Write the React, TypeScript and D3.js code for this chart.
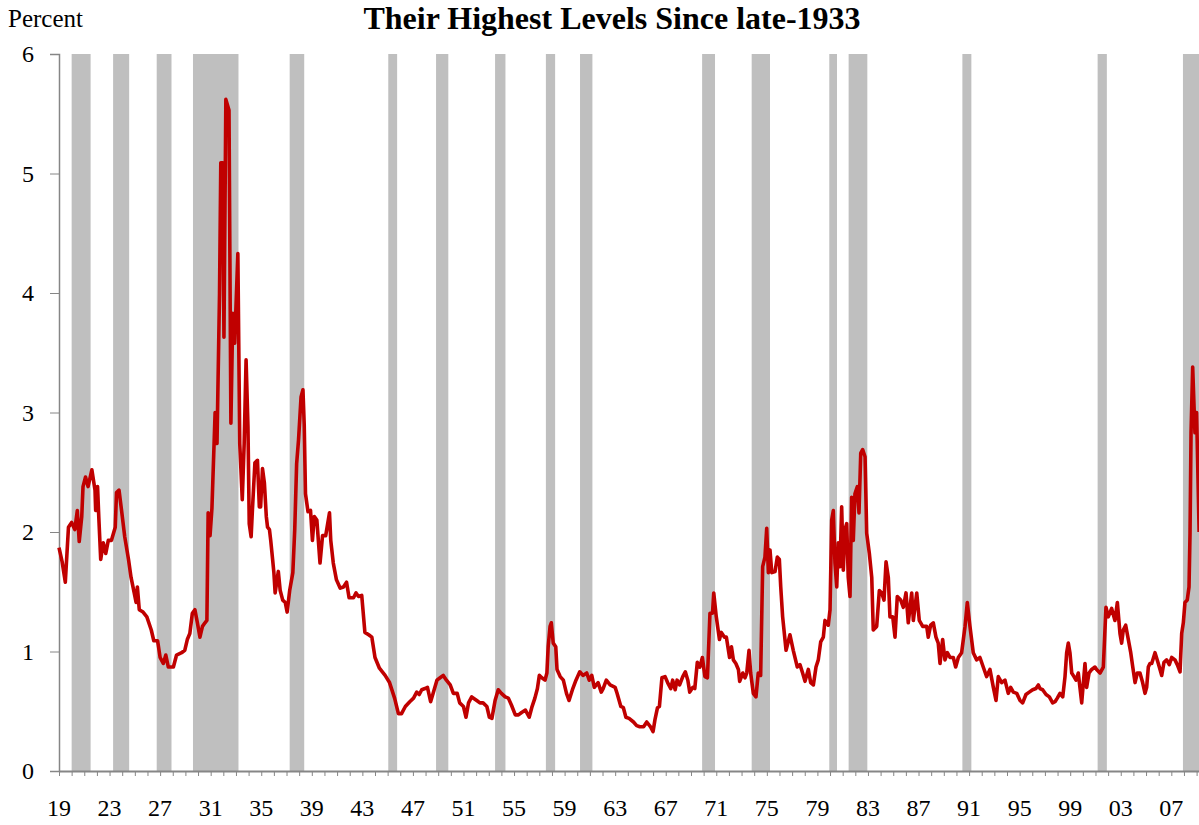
import React, { useEffect, useRef } from "react";
import * as d3 from "d3";

// Baa - Aaa corporate spread (decimal year, percent)
const dates = [
  1919.0, 1919.25, 1919.5, 1919.75, 1920.0, 1920.25, 1920.45, 1920.6, 1920.8, 1920.9,
  1921.1, 1921.3, 1921.6, 1921.85, 1921.9, 1922.05, 1922.15, 1922.3, 1922.5, 1922.7,
  1922.9, 1923.15, 1923.45, 1923.55, 1923.75, 1923.95, 1924.2, 1924.5, 1924.7, 1924.95,
  1925.1, 1925.2, 1925.35, 1925.65, 1925.95, 1926.3, 1926.5, 1926.8, 1927.0, 1927.25,
  1927.45, 1927.65, 1928.05, 1928.3, 1928.7, 1928.95, 1929.15, 1929.35, 1929.55, 1929.75,
  1929.95, 1930.15, 1930.35, 1930.55, 1930.7, 1930.8, 1930.95, 1931.1, 1931.35, 1931.5,
  1931.7, 1931.8, 1931.95, 1932.05, 1932.2, 1932.45, 1932.6, 1932.75, 1932.9, 1933.15,
  1933.3, 1933.5, 1933.65, 1933.8, 1933.95, 1934.05, 1934.2, 1934.3, 1934.5, 1934.7,
  1934.85, 1934.95, 1935.1, 1935.25, 1935.4, 1935.5, 1935.65, 1935.75, 1935.9, 1936.0,
  1936.1, 1936.35, 1936.5, 1936.7, 1936.9, 1937.05, 1937.25, 1937.5, 1937.65, 1937.8,
  1937.95, 1938.15, 1938.3, 1938.4, 1938.5, 1938.7, 1938.9, 1939.05, 1939.2, 1939.4,
  1939.65, 1939.85, 1940.1, 1940.4, 1940.5, 1940.7, 1940.95, 1941.25, 1941.5, 1941.75,
  1941.95, 1942.3, 1942.5, 1942.7, 1942.95, 1943.2, 1943.5, 1943.75, 1944.0, 1944.35,
  1944.8, 1945.15, 1945.55, 1945.85, 1946.1, 1946.4, 1946.75, 1947.05, 1947.3, 1947.5,
  1947.7, 1947.95, 1948.15, 1948.4, 1948.6, 1948.9, 1949.15, 1949.4, 1949.65, 1949.95,
  1950.2, 1950.5, 1950.7, 1951.0, 1951.2, 1951.4, 1951.65, 1952.05, 1952.3, 1952.55,
  1952.85, 1953.05, 1953.25, 1953.5, 1953.75, 1954.0, 1954.3, 1954.55, 1954.8, 1955.1,
  1955.35, 1955.6, 1955.9, 1956.2, 1956.4, 1956.65, 1956.85, 1957.0, 1957.2, 1957.45,
  1957.6, 1957.7, 1957.85, 1957.95, 1958.1, 1958.3, 1958.4, 1958.65, 1958.9, 1959.15,
  1959.35, 1959.65, 1959.9, 1960.2, 1960.45, 1960.75, 1960.95, 1961.15, 1961.35, 1961.65,
  1961.9, 1962.05, 1962.3, 1962.6, 1963.0, 1963.15, 1963.45, 1963.65, 1963.85, 1964.1,
  1964.45, 1964.7, 1964.95, 1965.25, 1965.5, 1965.8, 1966.0, 1966.15, 1966.35, 1966.5,
  1966.7, 1966.95, 1967.15, 1967.4, 1967.55, 1967.75, 1967.9, 1968.1, 1968.35, 1968.55,
  1968.75, 1968.9, 1969.15, 1969.3, 1969.5, 1969.7, 1969.9, 1970.1, 1970.3, 1970.5,
  1970.7, 1970.8, 1971.0, 1971.25, 1971.4, 1971.65, 1971.8, 1972.05, 1972.2, 1972.35,
  1972.55, 1972.75, 1972.85, 1973.1, 1973.27, 1973.41, 1973.59, 1973.72, 1973.93, 1974.14,
  1974.32, 1974.51, 1974.67, 1974.85, 1974.99, 1975.12, 1975.25, 1975.39, 1975.65, 1975.83,
  1975.99, 1976.1, 1976.25, 1976.52, 1976.83, 1977.09, 1977.41, 1977.62, 1977.83, 1978.02,
  1978.28, 1978.47, 1978.68, 1978.89, 1979.07, 1979.26, 1979.47, 1979.6, 1979.86, 1980.0,
  1980.13, 1980.26, 1980.39, 1980.53, 1980.65, 1980.79, 1980.92, 1981.05, 1981.18, 1981.32,
  1981.44, 1981.58, 1981.71, 1981.84, 1981.97, 1982.16, 1982.29, 1982.43, 1982.58, 1982.77,
  1982.9, 1983.11, 1983.3, 1983.42, 1983.69, 1983.9, 1984.09, 1984.27, 1984.43, 1984.61,
  1984.74, 1984.96, 1985.14, 1985.32, 1985.59, 1985.8, 1986.01, 1986.19, 1986.46, 1986.59,
  1986.86, 1987.06, 1987.33, 1987.65, 1987.77, 1987.96, 1988.17, 1988.38, 1988.56, 1988.7,
  1988.91, 1989.09, 1989.28, 1989.49, 1989.75, 1989.94, 1990.15, 1990.41, 1990.68, 1990.86,
  1991.07, 1991.33, 1991.6, 1991.86, 1992.12, 1992.39, 1992.65, 1992.92, 1993.13, 1993.31,
  1993.58, 1993.84, 1994.1, 1994.29, 1994.5, 1994.77, 1995.03, 1995.24, 1995.5, 1995.76,
  1996.03, 1996.29, 1996.48, 1996.61, 1996.82, 1997.09, 1997.35, 1997.61, 1997.8, 1997.98,
  1998.19, 1998.41, 1998.59, 1998.72, 1998.85, 1998.98, 1999.12, 1999.3, 1999.46, 1999.64,
  1999.78, 1999.91, 2000.17, 2000.3, 2000.49, 2000.7, 2000.96, 2001.09, 2001.36, 2001.62,
  2001.83, 2002.01, 2002.28, 2002.54, 2002.73, 2002.94, 2003.07, 2003.2, 2003.39, 2003.6,
  2003.79, 2003.95, 2004.13, 2004.31, 2004.52, 2004.73, 2004.92, 2005.05, 2005.18, 2005.31,
  2005.45, 2005.71, 2005.97, 2006.24, 2006.42, 2006.63, 2006.84, 2007.03, 2007.29, 2007.47,
  2007.69, 2007.82, 2007.95, 2008.08, 2008.26, 2008.4, 2008.48, 2008.56, 2008.69, 2008.87,
  2009.0, 2009.2,
];

const spread = [
  1.87, 1.75, 1.58, 2.04, 2.08, 2.02, 2.18, 1.92, 2.13, 2.38,
  2.46, 2.38, 2.52, 2.35, 2.18, 2.38, 2.12, 1.77, 1.91, 1.82,
  1.93, 1.93, 2.04, 2.33, 2.35, 2.18, 1.96, 1.77, 1.62, 1.49,
  1.41, 1.54, 1.35, 1.33, 1.29, 1.18, 1.09, 1.09, 0.95, 0.9,
  0.97, 0.87, 0.87, 0.97, 0.99, 1.01, 1.1, 1.15, 1.32, 1.35,
  1.24, 1.12, 1.21, 1.24, 1.26, 2.16, 1.97, 2.2, 3.0, 2.74,
  4.0, 5.09, 5.09, 3.63, 5.62, 5.53, 2.91, 3.83, 3.58, 4.33,
  2.74, 2.27, 2.74, 3.44, 2.88, 2.07, 1.96, 2.18, 2.58, 2.6,
  2.21, 2.21, 2.53, 2.41, 2.13, 2.04, 2.02, 1.93, 1.77, 1.66,
  1.49, 1.67, 1.51, 1.43, 1.41, 1.33, 1.51, 1.66, 2.02, 2.57,
  2.77, 3.13, 3.19, 2.9, 2.32, 2.17, 2.18, 1.93, 2.13, 2.1,
  1.74, 1.97, 1.97, 2.16, 1.93, 1.74, 1.6, 1.53, 1.54, 1.58,
  1.45, 1.45, 1.49, 1.46, 1.47, 1.16, 1.14, 1.12, 0.95, 0.86,
  0.8, 0.74, 0.61, 0.48, 0.48, 0.54, 0.58, 0.61, 0.66, 0.64,
  0.68, 0.69, 0.7, 0.58, 0.65, 0.76, 0.78, 0.8, 0.76, 0.72,
  0.65, 0.65, 0.57, 0.54, 0.45, 0.57, 0.62, 0.59, 0.57, 0.57,
  0.54, 0.45, 0.44, 0.59, 0.68, 0.65, 0.62, 0.61, 0.55, 0.47,
  0.47, 0.49, 0.51, 0.45, 0.53, 0.61, 0.69, 0.8, 0.78, 0.76,
  0.82, 1.04, 1.21, 1.24, 1.07, 1.04, 0.85, 0.79, 0.76, 0.65,
  0.59, 0.69, 0.76, 0.83, 0.8, 0.82, 0.76, 0.8, 0.7, 0.74,
  0.66, 0.69, 0.76, 0.72, 0.7, 0.65, 0.54, 0.53, 0.45, 0.44,
  0.41, 0.38, 0.37, 0.37, 0.41, 0.37, 0.33, 0.43, 0.53, 0.54,
  0.78, 0.79, 0.74, 0.69, 0.76, 0.68, 0.76, 0.72, 0.79, 0.83,
  0.76, 0.66, 0.7, 0.69, 0.91, 0.87, 0.95, 0.79, 0.78, 1.32,
  1.32, 1.49, 1.29, 1.1, 1.16, 1.12, 1.12, 0.95, 1.04, 0.93,
  0.9, 0.85, 0.75, 0.82, 0.78, 0.82, 1.01, 0.82, 0.65, 0.62,
  0.82, 0.8, 1.71, 1.79, 2.03, 1.66, 1.85, 1.66, 1.67, 1.79,
  1.77, 1.54, 1.29, 1.01, 1.14, 1.01, 0.87, 0.89, 0.82, 0.75,
  0.85, 0.74, 0.72, 0.87, 0.93, 1.08, 1.12, 1.26, 1.22, 1.35,
  2.1, 2.18, 1.74, 1.54, 1.91, 1.71, 2.21, 1.68, 2.02, 2.07,
  1.62, 1.46, 2.29, 1.93, 2.32, 2.38, 2.16, 2.66, 2.69, 2.63,
  1.99, 1.82, 1.62, 1.18, 1.21, 1.51, 1.49, 1.43, 1.75, 1.62,
  1.29, 1.29, 1.12, 1.46, 1.43, 1.37, 1.49, 1.24, 1.49, 1.26,
  1.49, 1.26, 1.21, 1.21, 1.12, 1.22, 1.24, 1.12, 1.07, 0.9,
  1.1, 0.93, 0.99, 0.95, 0.95, 0.87, 0.95, 0.99, 1.21, 1.41,
  1.21, 0.99, 0.93, 0.95, 0.87, 0.79, 0.85, 0.7, 0.59, 0.79,
  0.74, 0.76, 0.65, 0.7, 0.66, 0.65, 0.59, 0.57, 0.64, 0.66,
  0.68, 0.69, 0.72, 0.69, 0.68, 0.64, 0.62, 0.57, 0.58, 0.61,
  0.65, 0.62, 0.79, 0.99, 1.07, 0.99, 0.82, 0.79, 0.76, 0.82,
  0.69, 0.57, 0.9, 0.7, 0.82, 0.85, 0.87, 0.85, 0.82, 0.87,
  1.37, 1.29, 1.36, 1.26, 1.41, 1.15, 1.07, 1.18, 1.22, 1.1,
  0.99, 0.87, 0.74, 0.82, 0.82, 0.74, 0.65, 0.7, 0.87, 0.9,
  0.9, 0.99, 0.9, 0.8, 0.91, 0.93, 0.89, 0.95, 0.93, 0.89,
  0.83, 1.15, 1.24, 1.41, 1.43, 1.54, 1.99, 2.83, 3.38, 2.83,
  3.0, 2.0,
];

// NBER recessions as drawn (start, end in decimal years)
const recessionStart = [1920.0, 1923.28, 1926.73, 1929.6, 1937.25, 1945.05, 1948.83, 1953.5, 1957.52, 1960.22, 1969.88, 1973.8, 1979.94, 1981.47, 1990.47, 2001.17, 2007.92];
const recessionEnd = [1921.5, 1924.55, 1927.9, 1933.2, 1938.4, 1945.75, 1949.8, 1954.32, 1958.25, 1961.2, 1970.9, 1975.25, 1980.55, 1982.95, 1991.18, 2001.9, 2009.5];

const yTicks = [0, 1, 2, 3, 4, 5, 6];
const yearTicks = d3.range(1919, 2010);
const yearLabels = d3.range(1919, 2010, 4);

const title = "Their Highest Levels Since late-1933";
const yTitle = "Percent";

const W = 1199;
const H = 825;
const serif = "'Times New Roman', 'Liberation Serif', serif";

export default function App() {
  const svgRef = useRef<SVGSVGElement | null>(null);

  useEffect(() => {
    const svg = d3.select(svgRef.current);
    svg.selectAll("*").remove();

    const x = d3.scaleLinear().domain([1919, 2009.19]).range([59, 1199]);
    const y = d3.scaleLinear().domain([0, 6]).range([771, 54]);

    // recession shading
    svg
      .append("g")
      .selectAll("rect")
      .data(recessionStart.map((s, i) => ({ s, e: recessionEnd[i] })))
      .enter()
      .append("rect")
      .attr("x", (d) => x(d.s))
      .attr("width", (d) => x(d.e) - x(d.s))
      .attr("y", y(6))
      .attr("height", y(0) - y(6))
      .attr("fill", "#bfbfbf");

    // y axis
    const yAxis = d3
      .axisLeft(y)
      .tickValues(yTicks)
      .tickSize(9)
      .tickPadding(16)
      .tickFormat((d) => String(d));
    const gy = svg.append("g").attr("transform", `translate(${x(1919)},0)`).call(yAxis);
    gy.select(".domain").attr("stroke", "#868686").attr("stroke-width", 1.5);
    gy.selectAll(".tick line").attr("stroke", "#868686").attr("stroke-width", 1);
    gy.selectAll(".tick text")
      .attr("font-family", serif)
      .attr("font-size", 24)
      .attr("fill", "#000")
      .attr("x", -25);

    // x axis
    const xAxis = d3
      .axisBottom(x)
      .tickValues(yearTicks)
      .tickSize(5)
      .tickSizeOuter(0)
      .tickFormat(() => "");
    const gx = svg.append("g").attr("transform", `translate(0,${y(0)})`).call(xAxis);
    gx.select(".domain").attr("stroke", "#868686").attr("stroke-width", 2);
    gx.selectAll(".tick line").attr("stroke", "#868686").attr("stroke-width", 1);

    svg
      .append("g")
      .selectAll("text")
      .data(yearLabels)
      .enter()
      .append("text")
      .attr("x", (d) => x(d))
      .attr("y", 816)
      .attr("text-anchor", "middle")
      .attr("font-family", serif)
      .attr("font-size", 24)
      .text((d) => String(d % 100).padStart(2, "0"));

    // spread line
    const data = dates.map((d, i) => ({ d, v: spread[i] }));
    const line = d3
      .line<{ d: number; v: number }>()
      .x((p) => x(p.d))
      .y((p) => y(p.v));

    svg
      .append("path")
      .datum(data)
      .attr("fill", "none")
      .attr("stroke", "#c00000")
      .attr("stroke-width", 3.6)
      .attr("stroke-linejoin", "round")
      .attr("d", line);

    svg
      .append("text")
      .attr("x", 8)
      .attr("y", 27)
      .attr("font-family", serif)
      .attr("font-size", 25)
      .text(yTitle);

    svg
      .append("text")
      .attr("x", 612)
      .attr("y", 29)
      .attr("text-anchor", "middle")
      .attr("font-family", serif)
      .attr("font-size", 32)
      .attr("font-weight", "bold")
      .text(title);
  }, []);

  return (
    <div style={{ position: "absolute", left: 0, top: 0 }}>
      <svg ref={svgRef} width={W} height={H} style={{ display: "block", background: "#fff" }} />
    </div>
  );
}
